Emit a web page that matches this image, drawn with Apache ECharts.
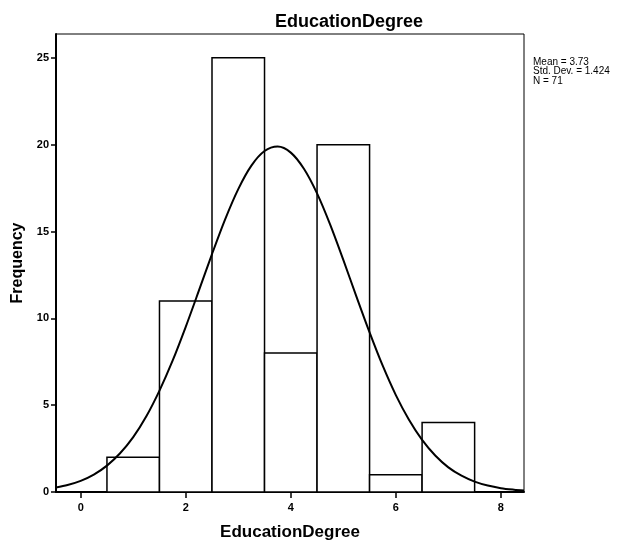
<!DOCTYPE html>
<html>
<head>
<meta charset="utf-8">
<script src="https://cdn.jsdelivr.net/npm/echarts@6/dist/echarts.min.js"></script>
<style>html,body{margin:0;padding:0;background:#fff;}#c{width:628px;height:544px;}</style>
</head>
<body>
<div id="c"></div>
<script>
// Histogram bins (centre of each bin, width 1)
var binCenters = [1, 2, 3, 4, 5, 6, 7];
var frequencies = [2, 11, 25, 8, 20, 1, 4];
var binWidth = 1;
// Normal curve
var curveX = [-0.47, -0.25, 0, 0.25, 0.5, 0.75, 1, 1.25, 1.5, 1.75, 2, 2.25, 2.5, 2.75, 3, 3.25, 3.5, 3.75, 4, 4.25, 4.5, 4.75, 5, 5.25, 5.5, 5.75, 6, 6.25, 6.5, 6.75, 7, 7.25, 7.5, 7.75, 8, 8.25, 8.44];
var curveY = [0.26, 0.40, 0.64, 1.00, 1.52, 2.23, 3.16, 4.36, 5.84, 7.56, 9.51, 11.59, 13.70, 15.70, 17.44, 18.79, 19.63, 19.89, 19.54, 18.61, 17.19, 15.39, 13.36, 11.25, 9.19, 7.27, 5.58, 4.16, 3.00, 2.10, 1.42, 0.94, 0.60, 0.37, 0.22, 0.13, 0.08];
var xTicks = [0, 2, 4, 6, 8];
var yTicks = [0, 5, 10, 15, 20, 25];
var statsLines = ['Mean = 3.73', 'Std. Dev. = 1.424', 'N = 71'];
var titleText = 'EducationDegree';
var xName = 'EducationDegree';
var yName = 'Frequency';

var FONT = "'Liberation Sans', Arial, sans-serif";
var chart = echarts.init(document.getElementById('c'), null, {renderer: 'canvas'});

var barData = binCenters.map(function (c, i) { return [c, frequencies[i]]; });
var curveData = curveX.map(function (x, i) { return [x, curveY[i]]; });

chart.setOption({
  animation: false,
  backgroundColor: '#fff',
  title: {
    text: titleText,
    left: 270, top: 8,
    textStyle: {fontFamily: FONT, fontSize: 18, fontWeight: 'bold', color: '#000'}
  },
  graphic: [{
    type: 'text', left: 533, top: 57,
    style: {text: statsLines.join('\n'), fontFamily: FONT, fontSize: 10, lineHeight: 9.6, fill: '#000'}
  }],
  grid: {left: 56, right: 104, top: 34, bottom: 52, containLabel: false, outerBoundsMode: 'none', show: true, borderColor: '#000', borderWidth: 1, backgroundColor: 'transparent'},
  xAxis: {
    type: 'value', min: -0.47, max: 8.44,
    name: xName, nameLocation: 'middle', nameGap: 32,
    nameTextStyle: {fontFamily: FONT, fontSize: 17, fontWeight: 'bold', color: '#000'},
    axisLine: {show: true, onZero: false, lineStyle: {color: '#000', width: 2}},
    axisTick: {show: true, inside: false, length: 6, lineStyle: {color: '#000', width: 1.5}, customValues: xTicks},
    axisLabel: {fontFamily: FONT, fontSize: 11, fontWeight: 'bold', color: '#000', margin: 10, customValues: xTicks},
    splitLine: {show: false}
  },
  yAxis: {
    type: 'value', min: 0, max: 26.37,
    name: yName, nameLocation: 'middle', nameGap: 28,
    nameTextStyle: {fontFamily: FONT, fontSize: 16, fontWeight: 'bold', color: '#000'},
    axisLine: {show: true, onZero: false, lineStyle: {color: '#000', width: 2}},
    axisTick: {show: true, inside: false, length: 5, lineStyle: {color: '#000', width: 1.5}, customValues: yTicks},
    axisLabel: {fontFamily: FONT, fontSize: 11, fontWeight: 'bold', color: '#000', margin: 7, customValues: yTicks},
    splitLine: {show: false}
  },
  series: [{
    type: 'custom',
    data: barData,
    renderItem: function (params, api) {
      var c = api.value(0), v = api.value(1);
      var p0 = api.coord([c - binWidth / 2, v]);
      var p1 = api.coord([c + binWidth / 2, 0]);
      return {
        type: 'rect',
        shape: {x: p0[0], y: p0[1], width: p1[0] - p0[0], height: p1[1] - p0[1]},
        style: {fill: '#fff', stroke: '#000', lineWidth: 1.5}
      };
    },
    z: 2
  }, {
    type: 'line',
    data: curveData,
    smooth: 0.3,
    showSymbol: false,
    symbol: 'none',
    lineStyle: {color: '#000', width: 2},
    z: 3
  }]
});
</script>
</body>
</html>
